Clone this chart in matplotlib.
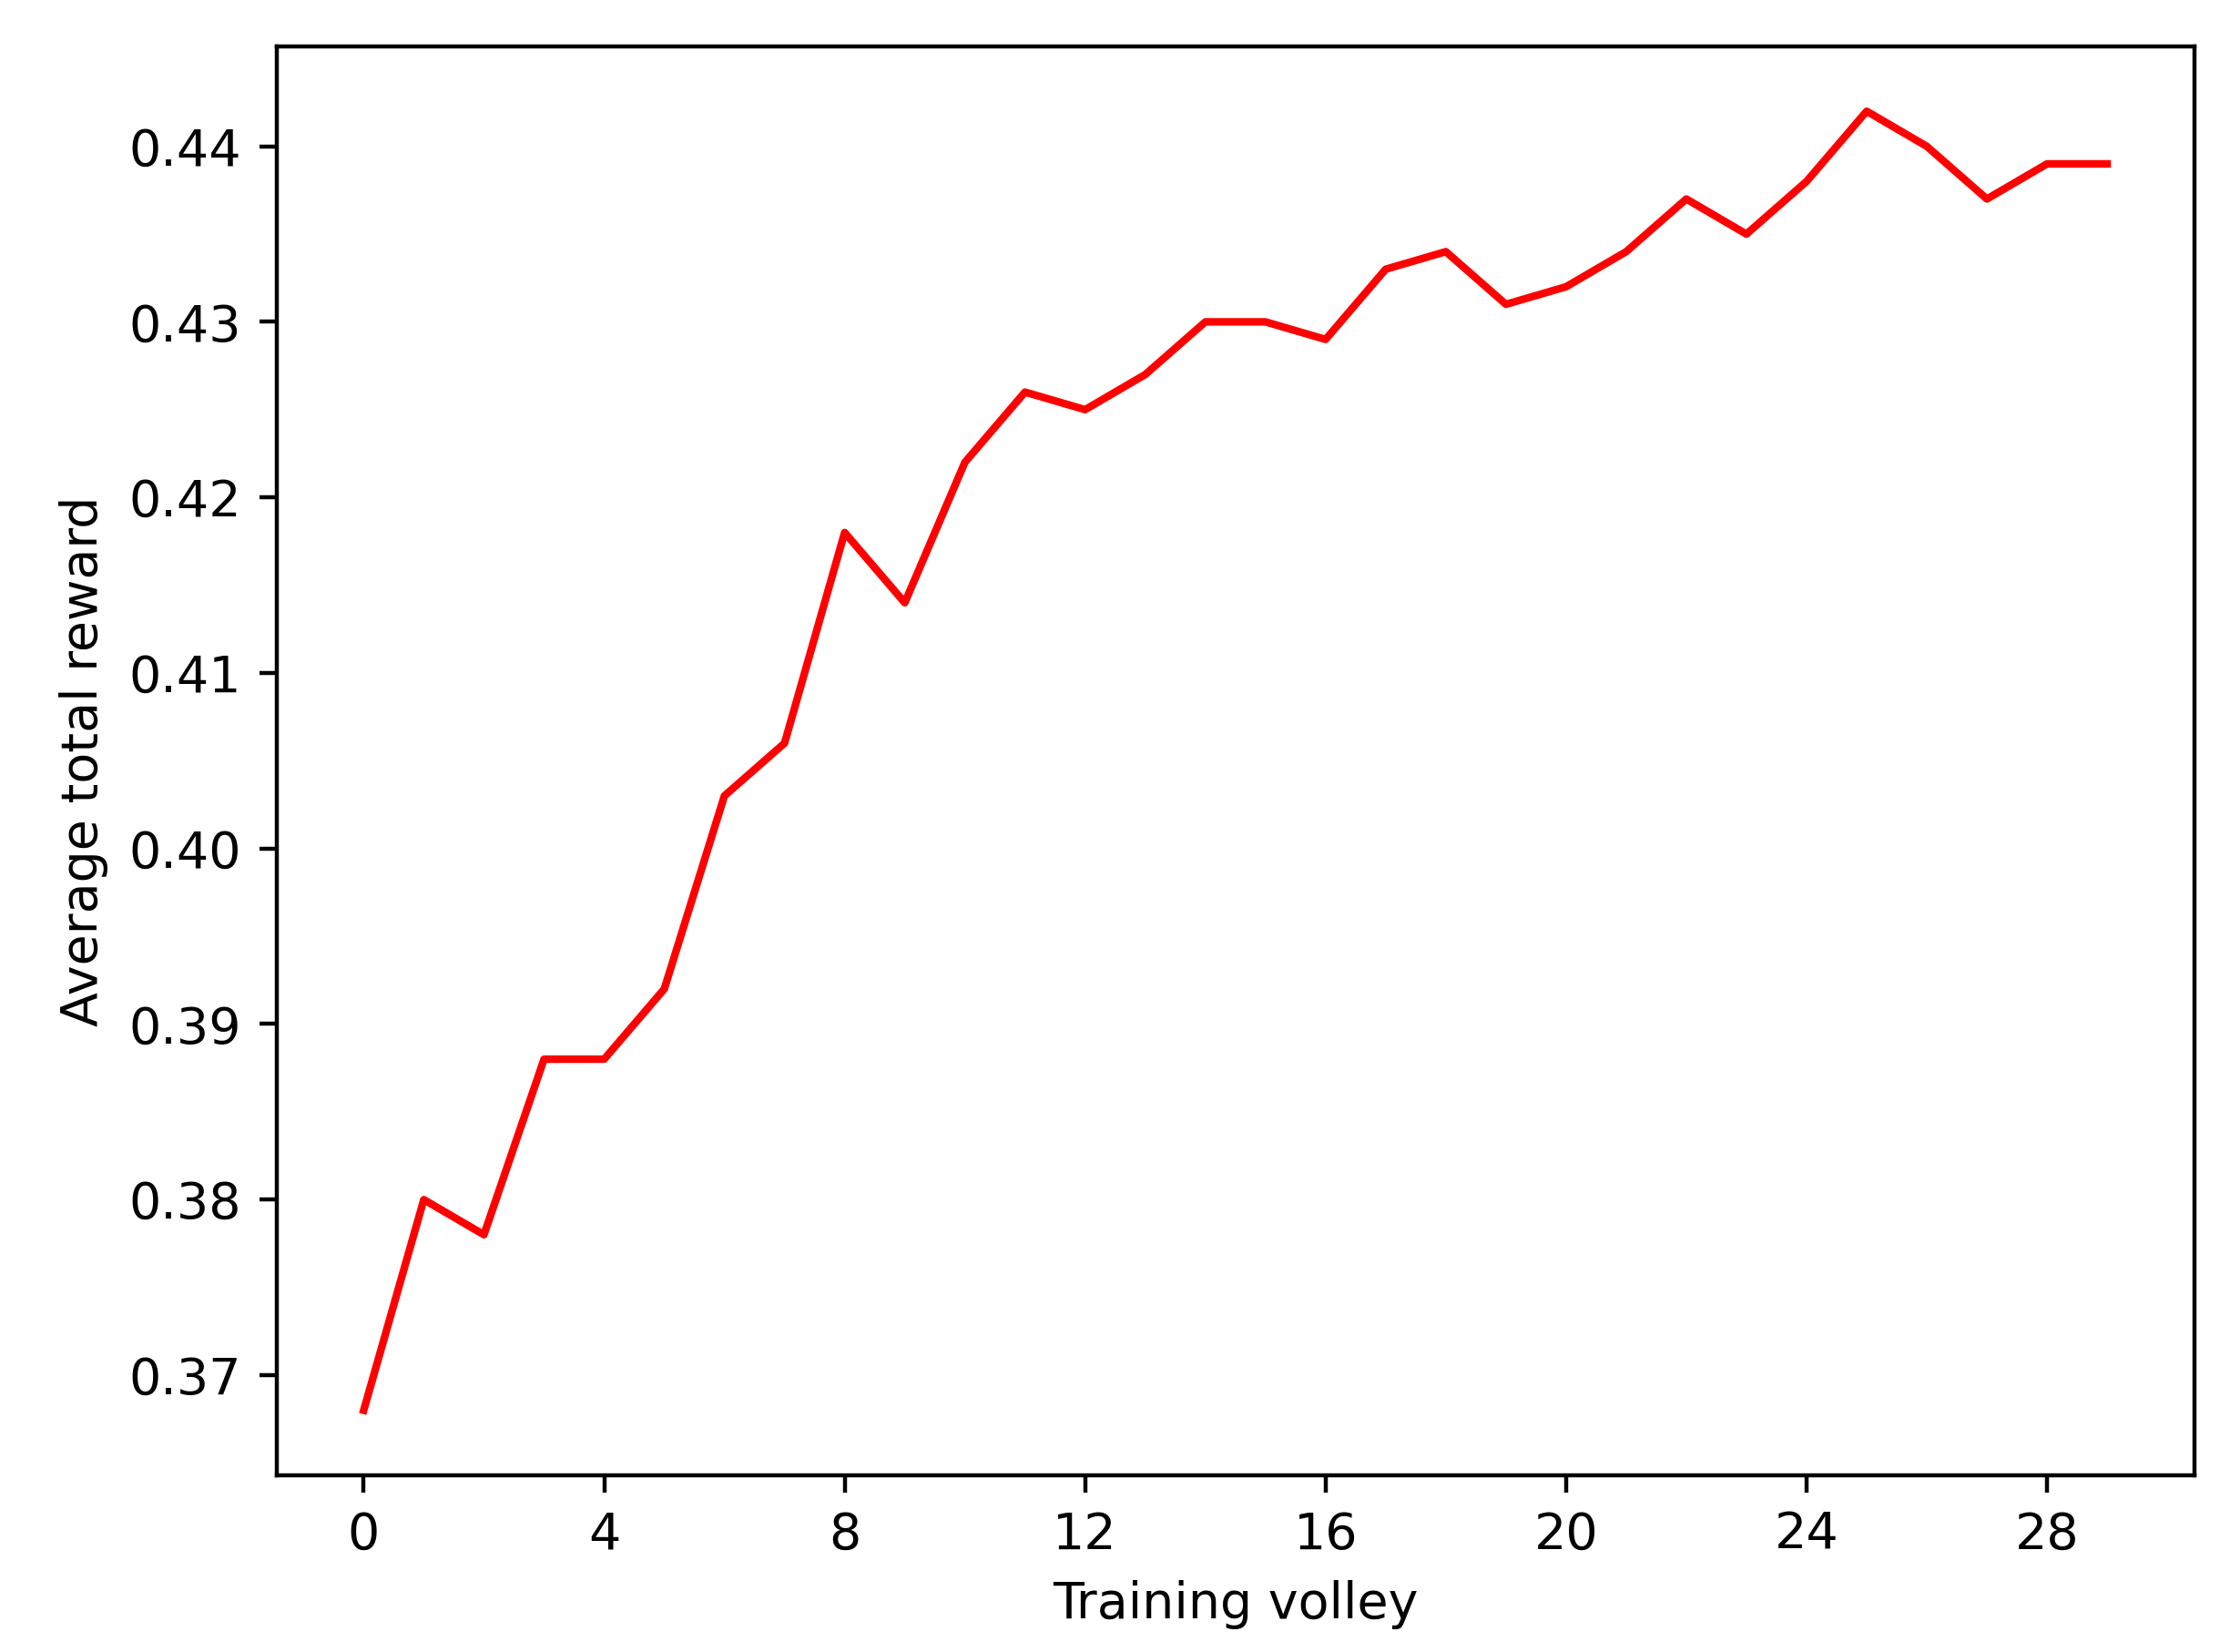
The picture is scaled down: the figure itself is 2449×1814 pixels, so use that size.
import matplotlib
matplotlib.use("Agg")
import matplotlib.pyplot as plt

volley = list(range(30))
reward = [0.368, 0.380, 0.378, 0.388, 0.388, 0.392, 0.403, 0.406, 0.418, 0.414,
          0.422, 0.426, 0.425, 0.427, 0.430, 0.430, 0.429, 0.433, 0.434, 0.431,
          0.432, 0.434, 0.437, 0.435, 0.438, 0.442, 0.440, 0.437, 0.439, 0.439]
xticks = [0, 4, 8, 12, 16, 20, 24, 28]

fig = plt.figure(figsize=(2449/400, 1814/400), dpi=400)
ax = fig.add_axes([0.124, 0.107, 0.86, 0.865])
ax.plot(volley, reward, color="red", linewidth=1.5)
ax.set_xticks(xticks)
ax.set_xlabel("Training volley")
ax.set_ylabel("Average total reward")
fig.savefig("out.png", dpi=400)
